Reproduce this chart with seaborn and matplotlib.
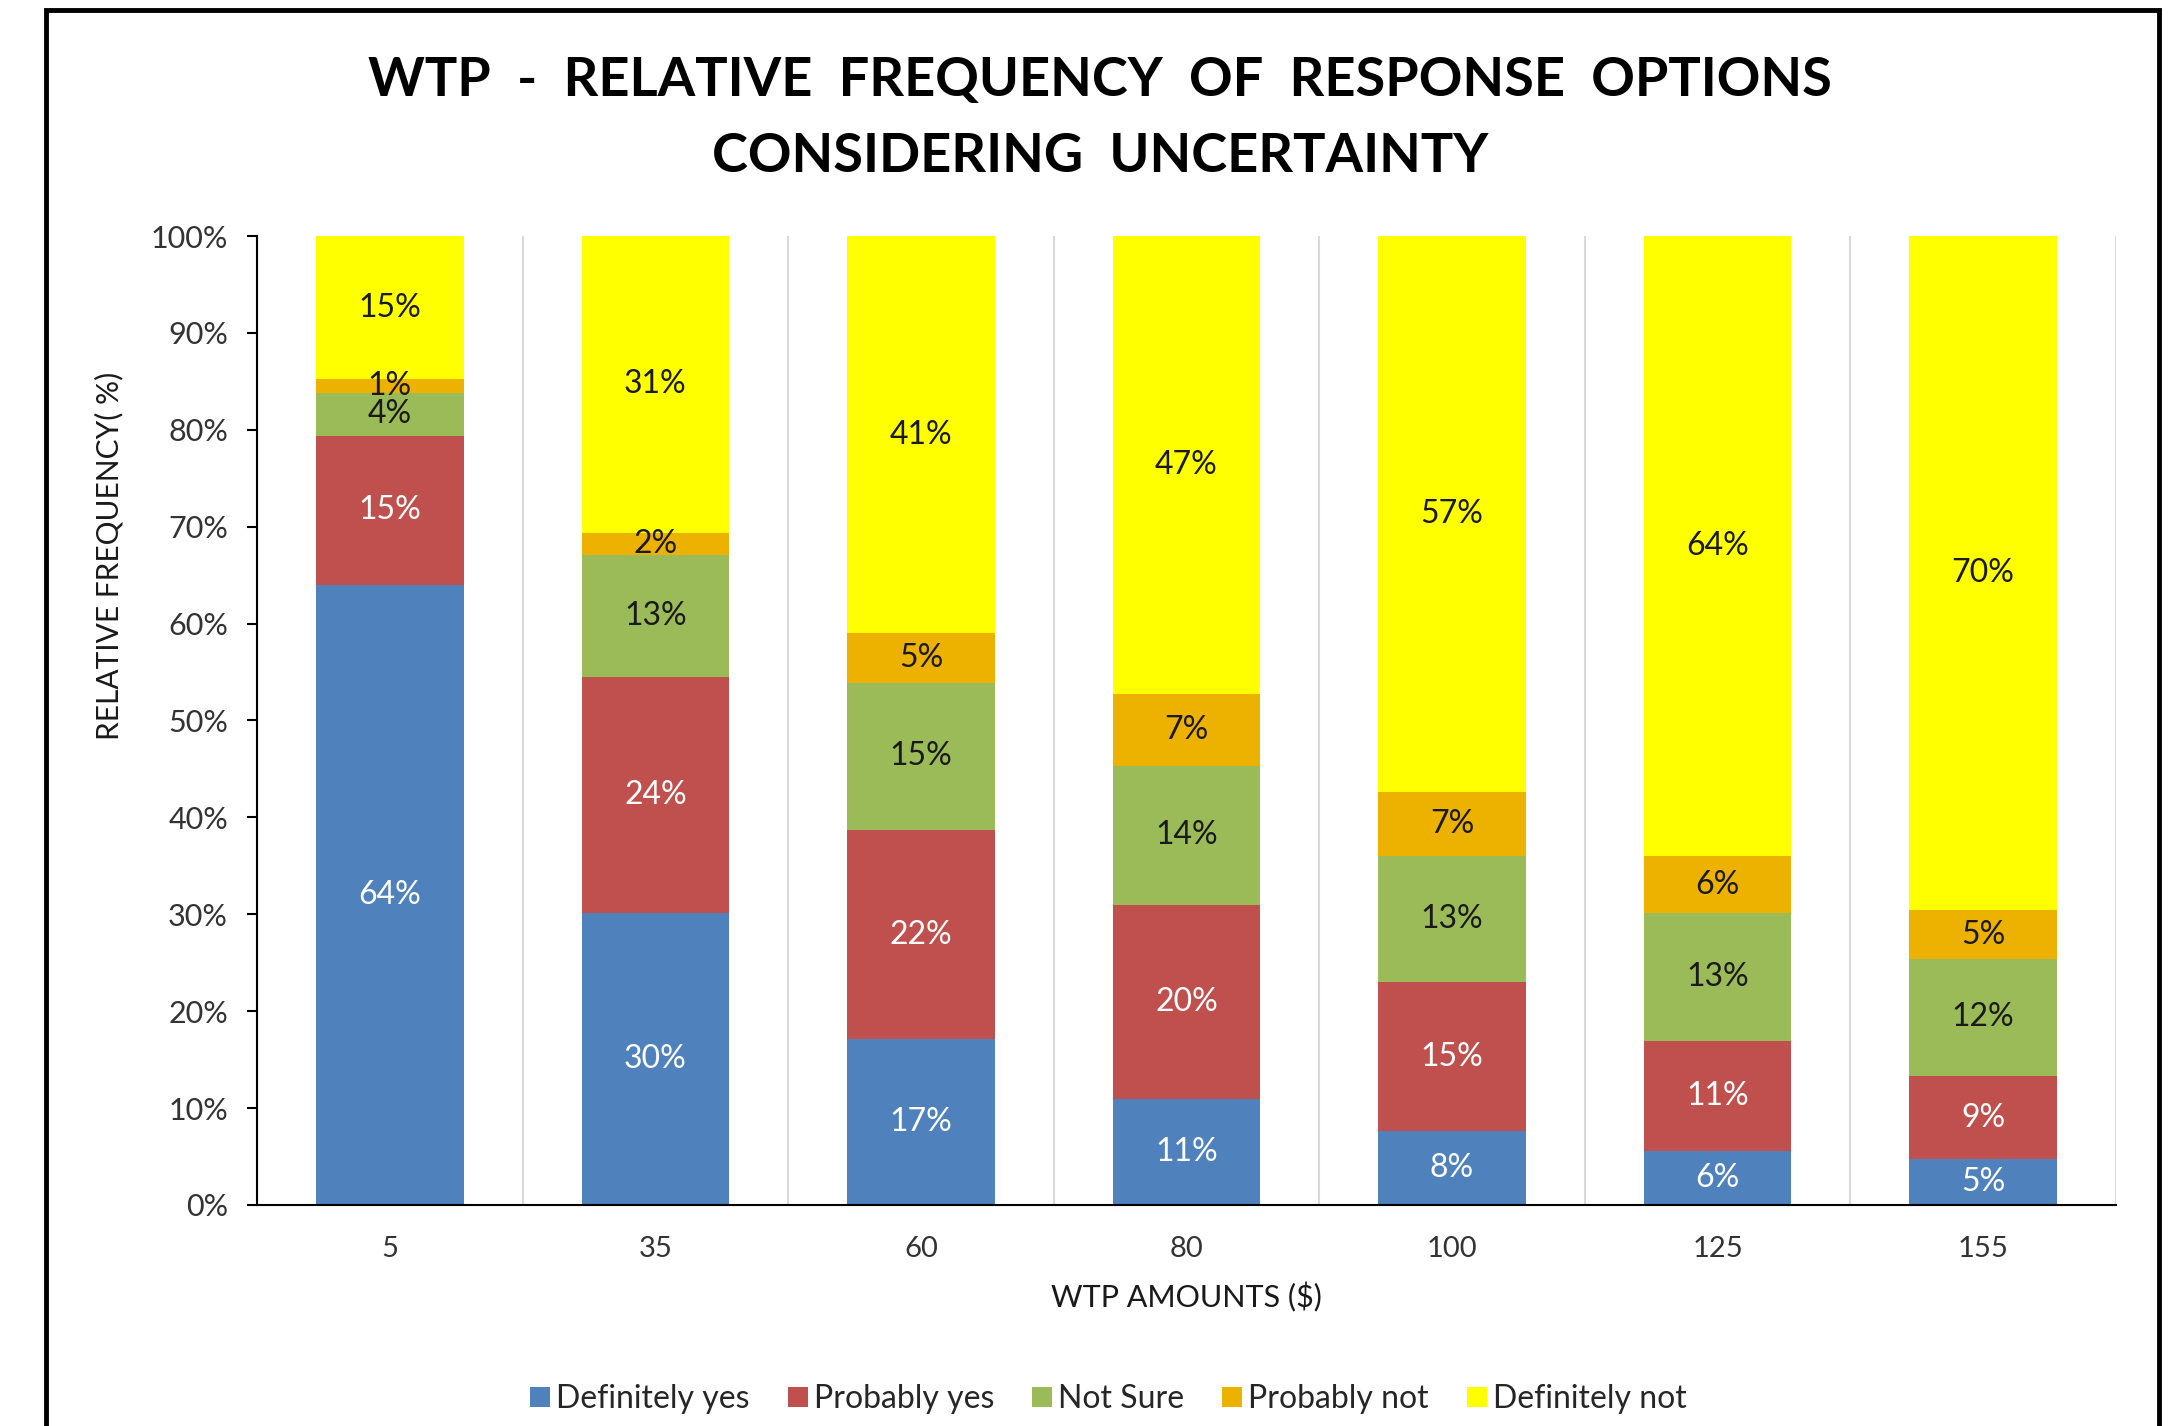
import matplotlib
matplotlib.use("Agg")
import matplotlib.pyplot as plt
from matplotlib.lines import Line2D
from matplotlib.patches import Rectangle
import numpy as np
import pandas as pd
import seaborn as sns


AMOUNTS = ["5", "35", "60", "80", "100", "125", "155"]
RESPONSES = ["Definitely yes", "Probably yes", "Not Sure", "Probably not", "Definitely not"]

DEFINITELY_YES = [64.0, 30.1, 17.1, 10.9, 7.6, 5.6, 4.7]
PROBABLY_YES = [15.4, 24.4, 21.6, 20.1, 15.4, 11.3, 8.6]
NOT_SURE = [4.4, 12.6, 15.2, 14.3, 13.0, 13.2, 12.1]
PROBABLY_NOT = [1.4, 2.3, 5.1, 7.4, 6.6, 5.9, 5.0]
DEFINITELY_NOT = [14.8, 30.6, 41.0, 47.3, 57.4, 64.0, 69.6]

COLORS = ["#4F81BD", "#C0504D", "#9BBB59", "#EDB100", "#FFFF00"]
LABEL_COLORS = ["white", "white", "#1a1a1a", "#1a1a1a", "#1a1a1a"]

FONT = ["Lato", "DejaVu Sans"]


def main() -> None:
    sns.set_style("white")
    plt.rcParams["font.family"] = FONT

    table = pd.DataFrame(
        {
            "amount": AMOUNTS,
            RESPONSES[0]: DEFINITELY_YES,
            RESPONSES[1]: PROBABLY_YES,
            RESPONSES[2]: NOT_SURE,
            RESPONSES[3]: PROBABLY_NOT,
            RESPONSES[4]: DEFINITELY_NOT,
        }
    )
    cumulative = table[RESPONSES].cumsum(axis=1)

    fig = plt.figure(figsize=(21.79, 14.26), dpi=100)
    ax = fig.add_axes([0.118, 0.155, 0.853, 0.6795])

    # draw from the top of the stack downwards so each layer covers the next
    for idx in range(len(RESPONSES) - 1, -1, -1):
        sns.barplot(
            x=table["amount"],
            y=cumulative[RESPONSES[idx]],
            order=AMOUNTS,
            color=COLORS[idx],
            saturation=1,
            width=0.555,
            linewidth=0,
            ax=ax,
            zorder=2,
        )

    for idx, response in enumerate(RESPONSES):
        tops = cumulative[response].to_numpy()
        vals = table[response].to_numpy()
        for pos, (top, val) in enumerate(zip(tops, vals)):
            ax.text(
                pos,
                top - val / 2,
                f"{val:.0f}%",
                ha="center",
                va="center",
                fontsize=23,
                color=LABEL_COLORS[idx],
                zorder=3,
            )

    ax.set_xlim(-0.5, len(AMOUNTS) - 0.5)
    ax.set_ylim(0, 100)
    ax.set_yticks(np.arange(0, 101, 10))
    ax.set_yticklabels([f"{v}%" for v in range(0, 101, 10)], fontsize=22, color="#333333")

    ax.set_xticks(range(len(AMOUNTS)))
    ax.set_xticklabels(AMOUNTS, fontsize=21, color="#333333")
    ax.set_xticks(np.arange(-0.5, len(AMOUNTS)), minor=True)
    ax.tick_params(axis="x", which="major", length=0, pad=22)
    ax.tick_params(axis="x", which="minor", length=9, width=1.5, color="black", direction="out")
    ax.tick_params(axis="y", length=7, width=1.5, color="black", direction="out", left=True, pad=14)
    ax.grid(axis="x", which="minor", color="#D9D9D9", linewidth=1.5, zorder=0)
    ax.set_axisbelow(True)

    for side in ["top", "right"]:
        ax.spines[side].set_visible(False)
    for side in ["left", "bottom"]:
        ax.spines[side].set_color("black")
        ax.spines[side].set_linewidth(1.5)

    ax.set_xlabel("WTP AMOUNTS ($)", fontsize=22, color="#1a1a1a", labelpad=15)
    ax.set_ylabel("RELATIVE FREQUENCY( %)", fontsize=21.5, color="#1a1a1a")
    ax.yaxis.set_label_coords(-0.072, 0.67)

    fig.text(0.505, 0.9435, "WTP  -  RELATIVE  FREQUENCY  OF  RESPONSE  OPTIONS",
             ha="center", va="center", fontsize=39, fontweight="bold", color="black")
    fig.text(0.505, 0.8905, "CONSIDERING  UNCERTAINTY",
             ha="center", va="center", fontsize=39, fontweight="bold", color="black")

    handles = [
        Line2D([0], [0], marker="s", linestyle="", markersize=14, markerfacecolor=c, markeredgewidth=0)
        for c in COLORS
    ]
    fig.legend(
        handles,
        RESPONSES,
        loc="center",
        bbox_to_anchor=(0.508, 0.019),
        ncol=5,
        frameon=False,
        fontsize=23,
        handletextpad=0.1,
        columnspacing=1.1,
        handlelength=0.8,
    )

    fig.patches.append(
        Rectangle((0.0211, -0.05), 0.9697, 1.043, transform=fig.transFigure,
                  fill=False, edgecolor="black", linewidth=3.5)
    )

    fig.savefig("out.png", dpi=100)


if __name__ == "__main__":
    main()
